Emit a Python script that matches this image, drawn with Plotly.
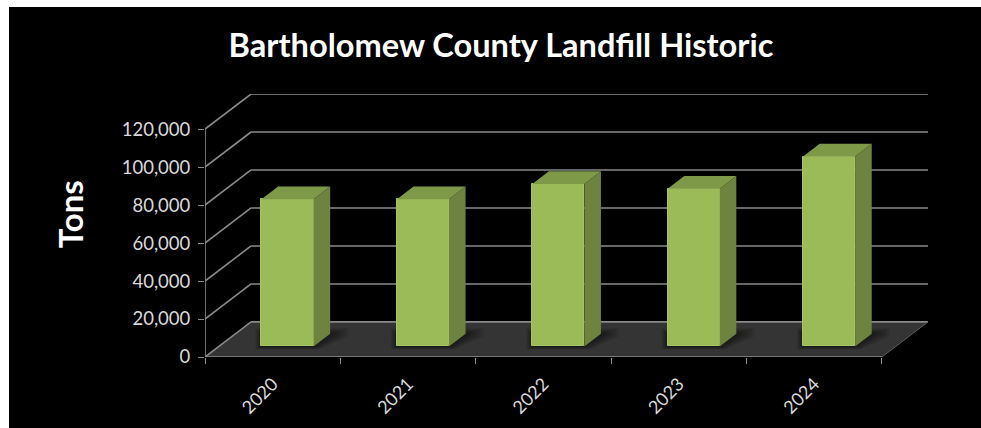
import plotly.graph_objects as go

# Data
years = ["2020", "2021", "2022", "2023", "2024"]
tons = [77500, 77500, 85500, 83000, 100000]
y_ticks = [0, 20000, 40000, 60000, 80000, 100000, 120000]
title_text = "Bartholomew County Landfill Historic"
y_title = "Tons"

# Oblique projection constants (pixels of the target frame)
PX_X = 135.2            # pixels per category
PX_Y = 37.9 / 20000     # pixels per ton
DEPTH_X, DEPTH_Y = 46 / PX_X, 35 / PX_Y        # wall depth in axis units
BAR_W = 52 / PX_X
BAR_OFF_X, BAR_OFF_Y = 14.8 / PX_X, 10.5 / PX_Y  # bar offset into the floor
BAR_DX, BAR_DY = 16.6 / PX_X, 12.7 / PX_Y       # bar depth

X0, X1 = -0.5, len(years) - 0.5
xs = list(range(len(years)))
GRID = "#8a8a8a"
FRONT, SIDE, TOP = "#9BBB59", "#6E833F", "#7E9A48"

L, R, T, B = 205, 928, 94, 356.7
W, H = 981, 428

shapes = []
# black slide background inside a thin white page edge at the left and top
shapes.append(dict(type="rect", layer="below", xref="paper", yref="paper", line=dict(width=0),
                   fillcolor="#000000",
                   x0=(9 - L) / (R - L), x1=(W - L) / (R - L),
                   y0=(B - H) / (B - T), y1=(B - 7) / (B - T)))
# floor
shapes.append(dict(type="path", layer="below", xref="x", yref="y", line=dict(width=0),
                   fillcolor="#343434",
                   path=f"M{X0},0 L{X1},0 L{X1+DEPTH_X},{DEPTH_Y} L{X0+DEPTH_X},{DEPTH_Y} Z"))
# soft shadows around each bar's foot, built up from faint layers
for x in xs:
    left = x - BAR_W / 2 + BAR_OFF_X
    right = left + BAR_W
    for k in range(1, 7):
        grow = k * 3.0 / PX_X
        gy = k * 0.9 / PX_Y
        shapes.append(dict(type="path", layer="below", xref="x", yref="y", line=dict(width=0),
                           fillcolor="rgba(0,0,0,0.09)",
                           path=(f"M{left-grow/3},{BAR_OFF_Y-gy/2} L{right+grow/3},{BAR_OFF_Y-gy/2} "
                                 f"L{right+BAR_DX+grow},{BAR_OFF_Y+BAR_DY-gy/2} L{right+BAR_DX+grow},{BAR_OFF_Y+BAR_DY+gy} "
                                 f"L{left-grow/3},{BAR_OFF_Y+BAR_DY+gy} Z")))
# gridlines: side wall then back wall
for t in y_ticks:
    col, w = GRID, 1.6
    shapes.append(dict(type="line", layer="below", xref="x", yref="y", x0=X0, y0=t,
                       x1=X0 + DEPTH_X, y1=t + DEPTH_Y, line=dict(color=col, width=w)))
    shapes.append(dict(type="line", layer="below", xref="x", yref="y", x0=X0 + DEPTH_X, y0=t + DEPTH_Y,
                       x1=X1 + DEPTH_X, y1=t + DEPTH_Y, line=dict(color=col, width=w)))
# floor right edge, front axis, y axis line
shapes.append(dict(type="line", layer="below", xref="x", yref="y", x0=X1, y0=0, x1=X1 + DEPTH_X, y1=DEPTH_Y,
                   line=dict(color="#5a5a5a", width=1)))
shapes.append(dict(type="line", layer="below", xref="x", yref="y", x0=X0, y0=0, x1=X1, y1=0,
                   line=dict(color=GRID, width=1.6)))
shapes.append(dict(type="line", layer="below", xref="x", yref="y", x0=X0, y0=0, x1=X0, y1=y_ticks[-1],
                   line=dict(color=GRID, width=1.6)))

fig = go.Figure()
fig.add_trace(go.Bar(x=[x + BAR_OFF_X for x in xs], y=tons, base=BAR_OFF_Y, width=BAR_W,
                     marker=dict(color=FRONT, line=dict(color="#A6C466", width=1)),
                     hoverinfo="skip", showlegend=False))
for x, v in zip(xs, tons):
    left = x - BAR_W / 2 + BAR_OFF_X
    right = left + BAR_W
    base = BAR_OFF_Y
    top = base + v
    fig.add_trace(go.Scatter(x=[right, right + BAR_DX, right + BAR_DX, right, right],
                             y=[base, base + BAR_DY, top + BAR_DY, top, base],
                             mode="lines", fill="toself", fillcolor=SIDE, line=dict(width=0),
                             hoverinfo="skip", showlegend=False))
    fig.add_trace(go.Scatter(x=[left, right, right + BAR_DX, left + BAR_DX, left],
                             y=[top, top, top + BAR_DY, top + BAR_DY, top],
                             mode="lines", fill="toself", fillcolor=TOP, line=dict(width=0),
                             hoverinfo="skip", showlegend=False))

fig.update_layout(
    width=W, height=H, autosize=False,
    paper_bgcolor="#ffffff", plot_bgcolor="rgba(0,0,0,0)",
    margin=dict(l=L, r=W - R, t=T, b=H - B, pad=0, autoexpand=False),
    font=dict(family="Lato, 'Open Sans', sans-serif", color="#d9d9d9"),
    title=dict(text=f"<b>{title_text}</b>", x=501 / W, xanchor="center",
               y=1 - 46 / H, yanchor="middle",
               font=dict(size=32.6, color="#ffffff", family="Lato, 'Open Sans', sans-serif")),
    shapes=shapes,
    bargap=0,
    annotations=[dict(text=f"<b>{y_title}</b>", textangle=-90, xref="paper", yref="paper",
                      x=(70 - L) / (R - L), y=(B - 214) / (B - T), xanchor="center", yanchor="middle",
                      showarrow=False, font=dict(size=33, color="#ffffff"))],
    xaxis=dict(range=[X0, X1 + DEPTH_X], tickmode="array", tickvals=xs, ticktext=years, tickangle=-45,
               ticks="", showgrid=False, zeroline=False, showline=False,
               tickfont=dict(size=18, color="#d9d9d9"), ticklabelstandoff=12,
               minor=dict(tickmode="array", tickvals=[X0 + i for i in range(len(years) + 1)], ticks="outside",
                          ticklen=6, tickcolor=GRID, tickwidth=1, showgrid=False)),
    yaxis=dict(range=[0, y_ticks[-1] + DEPTH_Y], tickmode="array", tickvals=y_ticks,
               ticktext=[f"{t:,}" for t in y_ticks], ticks="outside", ticklen=6, tickcolor=GRID, tickwidth=1,
               ticklabelstandoff=4,
               showgrid=False, zeroline=False, showline=False, tickfont=dict(size=18.5, color="#d9d9d9")),
)

fig.write_html("out.html", config={"displayModeBar": False},
               default_width=f"{W}px", default_height=f"{H}px",
               post_script="document.body.style.margin='0';document.documentElement.style.overflow='hidden';")
